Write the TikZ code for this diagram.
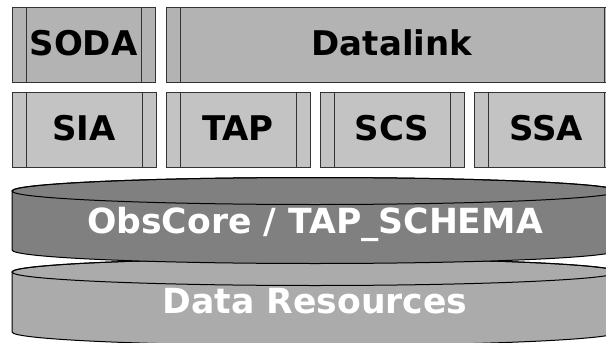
\documentclass[tikz,border=0pt]{standalone}
\usepackage{fontspec}
\setmainfont{DejaVu Sans}
\definecolor{edge}{HTML}{333333}
\definecolor{toprow}{HTML}{B3B3B3}
\definecolor{botrow}{HTML}{C3C3C3}
\definecolor{obsfill}{HTML}{808080}
\definecolor{drfill}{HTML}{ABABAB}
\begin{document}
\begin{tikzpicture}[x=1pt,y=-1pt,
  svc/.style={draw=edge, line width=1pt, minimum height=75pt, inner sep=0pt,
    text height=22pt, text depth=0pt, font=\bfseries\fontsize{34}{40}\selectfont,
    path picture={\draw[edge, line width=1pt]
      ([xshift=14pt]path picture bounding box.north west) -- ([xshift=14pt]path picture bounding box.south west)
      ([xshift=-14pt]path picture bounding box.north east) -- ([xshift=-14pt]path picture bounding box.south east);}},
  toprowbox/.style={svc, fill=toprow},
  botrowbox/.style={svc, fill=botrow},
  cyltext/.style={anchor=base, text=white, font=\bfseries\fontsize{34.6}{40}\selectfont},
  cylline/.style={draw=black, line width=1pt}]
\clip (0,0) rectangle (606,343);
% top row
\node[toprowbox, minimum width=143pt] (soda) at (83.5,44.5) {SODA};
\node[toprowbox, minimum width=452pt] (datalink) at (392,44.5) {Datalink};
% second row
\node[botrowbox, minimum width=144pt] (sia) at (84,129.5) {SIA};
\node[botrowbox, minimum width=144pt] (tap) at (238,129.5) {TAP};
\node[botrowbox, minimum width=144pt] (scs) at (392,129.5) {SCS};
\node[botrowbox, minimum width=144pt] (ssa) at (546,129.5) {SSA};
% Data Resources cylinder
\path[cylline, fill=drfill] (12,272) -- (12,332)
  arc[start angle=180, end angle=360, x radius=303pt, y radius=13.5pt]
  -- (618,272)
  arc[start angle=0, end angle=180, x radius=303pt, y radius=13.5pt] -- cycle;
\draw[cylline] (315,272) ellipse [x radius=303pt, y radius=13.5pt];
% ObsCore cylinder
\path[cylline, fill=obsfill] (12,191) -- (12,250)
  arc[start angle=180, end angle=360, x radius=303pt, y radius=13.5pt]
  -- (618,191)
  arc[start angle=0, end angle=180, x radius=303pt, y radius=13.5pt] -- cycle;
\draw[cylline] (315,191) ellipse [x radius=303pt, y radius=13.5pt];
\node[cyltext] (obscore) at (315,233) {ObsCore / TAP\_SCHEMA};
\node[cyltext] (dataresources) at (315,313) {Data Resources};
\end{tikzpicture}
\end{document}
